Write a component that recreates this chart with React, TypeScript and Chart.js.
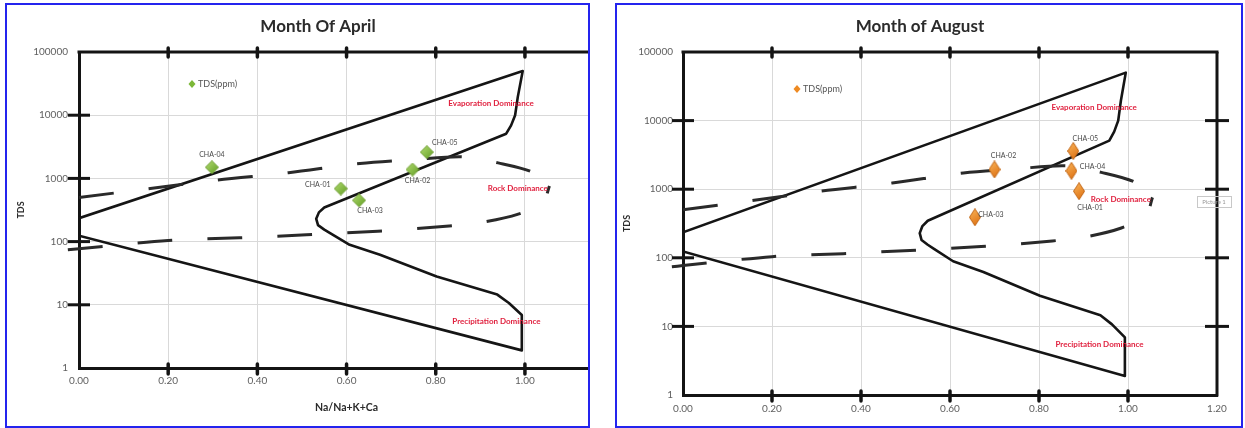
import React, { useEffect, useRef } from 'react';
import { Chart, registerables } from 'chart.js';

Chart.register(...registerables);

// ---------- axis ticks ----------
const xTickValues = [0, 0.2, 0.4, 0.6, 0.8, 1.0, 1.2];
const xTickLabels = ['0.00', '0.20', '0.40', '0.60', '0.80', '1.00', '1.20'];
const yTickValues = [1, 10, 100, 1000, 10000, 100000];
const yTickLabels = ['1', '10', '100', '1000', '10000', '100000'];

// ---------- samples ----------
const sampleNames = ['CHA-01', 'CHA-02', 'CHA-03', 'CHA-04', 'CHA-05'];
const aprilRatio = [0.587, 0.748, 0.628, 0.298, 0.78];
const aprilTDS = [690, 1380, 450, 1500, 2600];
const augustRatio = [0.89, 0.7, 0.656, 0.873, 0.877];
const augustTDS = [935, 1940, 390, 1850, 3600];

// ---------- Gibbs boundary (solid) ----------
const boundaryRatio = [0, 0.995, 0.984, 0.978, 0.969, 0.958, 0.55, 0.538, 0.532, 0.536, 0.55, 0.564, 0.607, 0.675, 0.802, 0.938, 0.964, 0.993, 0.993, 0];
const boundaryTDS = [235, 50000, 19500, 10000, 6900, 5100, 347, 290, 229, 182, 155, 135, 89, 62, 28, 14.5, 10.7, 6.9, 1.9, 124];

// ---------- dashed transition curve ----------
const dashUpperRatio = [0, 0.16, 0.31, 0.47, 0.63, 0.75, 0.86, 0.94, 1.015, 1.055];
const dashUpperTDS = [500, 690, 940, 1230, 1720, 1980, 2200, 1760, 1270, 760];
const dashLowerRatio = [-0.025, 0, 0.2, 0.36, 0.51, 0.67, 0.83, 0.91, 0.985, 1.04, 1.055];
const dashLowerTDS = [74, 77, 104, 115, 128, 146, 176, 205, 272, 410, 760];

// ---------- region names ----------
const regionNames = ['Evaporation Dominance', 'Rock Dominance', 'Precipitation Dominance'];
const regionRatio = [0.924, 0.984, 0.936];
const regionTDS = [15500, 700, 5.4];

const toXY = (xs: number[], ys: number[]) => xs.map((x, i) => ({ x, y: ys[i] }));

function makeDiamond(w: number, h: number, light: string, dark: string, edge: string) {
  const c = document.createElement('canvas');
  c.width = w;
  c.height = h;
  const ctx = c.getContext('2d')!;
  const g = ctx.createLinearGradient(0, 0, w, h);
  g.addColorStop(0, light);
  g.addColorStop(1, dark);
  ctx.beginPath();
  ctx.moveTo(w / 2, 0.5);
  ctx.lineTo(w - 0.5, h / 2);
  ctx.lineTo(w / 2, h - 0.5);
  ctx.lineTo(0.5, h / 2);
  ctx.closePath();
  ctx.fillStyle = g;
  ctx.fill();
  ctx.strokeStyle = edge;
  ctx.lineWidth = 1;
  ctx.stroke();
  return c;
}

const overlayPlugin = {
  id: 'overlay',
  afterDatasetsDraw(chart: any, _args: any, o: any) {
    const { ctx, chartArea: a } = chart;
    const xs = chart.scales.x;
    const ys = chart.scales.y;
    ctx.save();
    // top frame line and right axis
    ctx.strokeStyle = '#141414';
    ctx.lineWidth = 3;
    ctx.lineCap = 'butt';
    ctx.beginPath();
    ctx.moveTo(a.left - 1.5, a.top);
    ctx.lineTo(a.right + (o.rightAxis ? 1.5 : 0), a.top);
    ctx.stroke();
    if (o.rightAxis) {
      ctx.beginPath();
      ctx.moveTo(a.right, a.top);
      ctx.lineTo(a.right, a.bottom + 1.5);
      ctx.stroke();
    }
    // y tick marks
    [10, 100, 1000, 10000].forEach((v) => {
      const py = ys.getPixelForValue(v);
      ctx.beginPath();
      ctx.moveTo(a.left - 11, py);
      ctx.lineTo(a.left + 11, py);
      ctx.stroke();
      if (o.rightAxis) {
        ctx.beginPath();
        ctx.moveTo(a.right - 12, py);
        ctx.lineTo(a.right + 12, py);
        ctx.stroke();
      }
    });
    // x tick marks
    ctx.lineWidth = 3.5;
    ctx.lineCap = 'round';
    xTickValues.forEach((v) => {
      if (v === 0 || v === 1.2) return;
      const px = xs.getPixelForValue(v);
      ctx.beginPath();
      ctx.moveTo(px, a.top - 4);
      ctx.lineTo(px, a.top + 5);
      ctx.stroke();
      ctx.beginPath();
      ctx.moveTo(px, a.bottom - 4);
      ctx.lineTo(px, a.bottom + 6);
      ctx.stroke();
    });
    // region labels
    ctx.fillStyle = '#e01f3d';
    ctx.font = 'bold 8px Lato';
    ctx.textAlign = 'center';
    ctx.textBaseline = 'middle';
    regionNames.forEach((t, i) => {
      ctx.fillText(t, xs.getPixelForValue(regionRatio[i]), ys.getPixelForValue(regionTDS[i]));
    });
    // point labels
    ctx.fillStyle = '#4a4a4a';
    ctx.font = '7px Lato';
    const meta = chart.getDatasetMeta(0);
    meta.data.forEach((pt: any, i: number) => {
      const off = o.labelOffsets[i];
      ctx.fillText(sampleNames[i], pt.x + off[0], pt.y + off[1]);
    });
    // legend
    const ds = chart.data.datasets[0];
    const lx = a.left + o.legend[0];
    const ly = a.top + o.legend[1];
    ctx.beginPath();
    ctx.moveTo(lx, ly - 4);
    ctx.lineTo(lx + 3.5, ly);
    ctx.lineTo(lx, ly + 4);
    ctx.lineTo(lx - 3.5, ly);
    ctx.closePath();
    ctx.fillStyle = o.legendColor;
    ctx.fill();
    ctx.fillStyle = '#555';
    ctx.font = '9px Lato';
    ctx.textAlign = 'left';
    ctx.fillText(ds.label, lx + 6, ly);
    // "Picture 1" tag
    if (o.picture) {
      const [px, py] = o.picture;
      ctx.strokeStyle = '#c8c8c8';
      ctx.lineWidth = 1;
      ctx.strokeRect(px + 0.5, py + 0.5, 34, 11);
      ctx.fillStyle = '#999';
      ctx.font = '6px Lato';
      ctx.textAlign = 'center';
      ctx.fillText('Picture 1', px + 17, py + 6);
    }
    ctx.restore();
  },
};

type PanelCfg = {
  title: string;
  ratio: number[];
  tds: number[];
  colors: [string, string, string];
  markerSize: [number, number];
  legendColor: string;
  canvasW: number;
  canvasH: number;
  padL: number;
  padR: number;
  yWidth: number;
  xHeight: number;
  yTickPad: number;
  xTickPad: number;
  showXTitle: boolean;
  rightAxis: boolean;
  labelOffsets: number[][];
  legend: number[];
  picture: number[] | null;
  box: { left: number; top: number; width: number; height: number };
};

const aprilCfg: PanelCfg = {
  title: 'Month Of April',
  ratio: aprilRatio,
  tds: aprilTDS,
  colors: ['#b6df74', '#5e9a20', '#6f9e33'],
  markerSize: [14, 14],
  legendColor: '#7cb838',
  canvasW: 624,
  canvasH: 421,
  padL: 10,
  padR: 12,
  yWidth: 62,
  xHeight: 58,
  yTickPad: 11,
  xTickPad: 7,
  showXTitle: true,
  rightAxis: false,
  labelOffsets: [[-23, -4], [5, 11], [11, 10], [0, -13], [18, -9]],
  legend: [113, 32],
  picture: null,
  box: { left: 5, top: 3, width: 585, height: 425 },
};

const augustCfg: PanelCfg = {
  title: 'Month of August',
  ratio: augustRatio,
  tds: augustTDS,
  colors: ['#fcb95e', '#d9680a', '#c26616'],
  markerSize: [12, 18],
  legendColor: '#ee8a22',
  canvasW: 624,
  canvasH: 421,
  padL: 6,
  padR: 24,
  yWidth: 60,
  xHeight: 31,
  yTickPad: 10,
  xTickPad: 8,
  showXTitle: false,
  rightAxis: true,
  labelOffsets: [[11, 17], [9, -14], [16, -3], [21, -4], [12, -12]],
  legend: [114, 37],
  picture: [580, 191],
  box: { left: 615, top: 3, width: 628, height: 425 },
};

function Panel({ cfg }: { cfg: PanelCfg }) {
  const ref = useRef<HTMLCanvasElement>(null);
  useEffect(() => {
    const diamond = makeDiamond(cfg.markerSize[0], cfg.markerSize[1], cfg.colors[0], cfg.colors[1], cfg.colors[2]);
    const tickFont = { family: 'Lato', size: 10 };
    const chart = new Chart(ref.current!, {
      type: 'scatter',
      data: {
        datasets: [
          {
            label: 'TDS(ppm)',
            data: toXY(cfg.ratio, cfg.tds),
            pointStyle: diamond as any,
            pointRadius: 6,
            showLine: false,
            order: 0,
          },
          {
            label: 'boundary',
            data: toXY(boundaryRatio, boundaryTDS),
            showLine: true,
            borderColor: '#151515',
            borderWidth: 2.6,
            borderJoinStyle: 'round',
            pointRadius: 0,
            tension: 0,
            order: 2,
          },
          {
            label: 'transition-upper',
            data: toXY(dashUpperRatio, dashUpperTDS),
            showLine: true,
            borderColor: '#2a2a2a',
            borderWidth: 3,
            borderDash: [35, 35],
            pointRadius: 0,
            tension: 0.3,
            order: 1,
            clip: false as any,
          },
          {
            label: 'transition-lower',
            data: toXY(dashLowerRatio, dashLowerTDS),
            showLine: true,
            borderColor: '#2a2a2a',
            borderWidth: 3,
            borderDash: [35, 35],
            pointRadius: 0,
            tension: 0.3,
            order: 1,
            clip: false as any,
          },
        ] as any,
      },
      options: {
        responsive: false,
        animation: false,
        devicePixelRatio: 1,
        events: [],
        layout: { padding: { left: cfg.padL, right: cfg.padR, top: 0, bottom: 0 } },
        plugins: {
          legend: { display: false },
          tooltip: { enabled: false },
          title: {
            display: true,
            text: cfg.title,
            color: '#2b2b2b',
            font: { family: 'Lato', size: 17, weight: 'bold', lineHeight: 1 },
            padding: { top: 13, bottom: 17 },
          },
          overlay: {
            rightAxis: cfg.rightAxis,
            labelOffsets: cfg.labelOffsets,
            legend: cfg.legend,
            legendColor: cfg.legendColor,
            picture: cfg.picture,
          },
        } as any,
        scales: {
          x: {
            type: 'linear',
            min: 0,
            max: 1.2,
            afterBuildTicks: (s: any) => {
              s.ticks = xTickValues.map((v) => ({ value: v }));
            },
            afterFit: (s: any) => {
              s.height = cfg.xHeight;
            },
            ticks: {
              callback: (_v: any, i: number) => xTickLabels[i],
              font: tickFont,
              color: '#606060',
              padding: cfg.xTickPad,
              maxRotation: 0,
              autoSkip: false,
            },
            grid: { color: '#d9d9d9', lineWidth: 1, drawTicks: false },
            border: { display: true, color: '#141414', width: 3 },
            title: {
              display: cfg.showXTitle,
              text: 'Na/Na+K+Ca',
              color: '#2b2b2b',
              font: { family: 'Lato', size: 10.5, weight: 'bold', lineHeight: 1 },
              padding: { top: 0, bottom: 13 },
            },
          },
          y: {
            type: 'logarithmic',
            min: 1,
            max: 100000,
            afterBuildTicks: (s: any) => {
              s.ticks = yTickValues.map((v) => ({ value: v }));
            },
            afterFit: (s: any) => {
              s.width = cfg.yWidth;
            },
            ticks: {
              callback: (_v: any, i: number) => yTickLabels[i],
              font: tickFont,
              color: '#606060',
              padding: cfg.yTickPad,
              autoSkip: false,
            },
            grid: { color: '#d9d9d9', lineWidth: 1, drawTicks: false },
            border: { display: true, color: '#141414', width: 3 },
            title: {
              display: true,
              text: 'TDS',
              color: '#2b2b2b',
              font: { family: 'Lato', size: 9, weight: 'bold', lineHeight: 1 },
              padding: 0,
            },
          },
        } as any,
      },
      plugins: [overlayPlugin as any],
    });
    return () => chart.destroy();
  }, [cfg]);

  return (
    <div
      style={{
        position: 'absolute',
        left: cfg.box.left,
        top: cfg.box.top,
        width: cfg.box.width,
        height: cfg.box.height,
        border: '2px solid #2424ee',
        boxSizing: 'border-box',
        overflow: 'hidden',
        background: '#ffffff',
      }}
    >
      <canvas
        ref={ref}
        width={cfg.canvasW}
        height={cfg.canvasH}
        style={{ position: 'absolute', left: 0, top: 0, width: cfg.canvasW, height: cfg.canvasH }}
      />
    </div>
  );
}

export default function App() {
  return (
    <div style={{ position: 'fixed', left: 0, top: 0, width: 1245, height: 428, background: '#ffffff', overflow: 'hidden' }}>
      <Panel cfg={aprilCfg} />
      <Panel cfg={augustCfg} />
    </div>
  );
}
